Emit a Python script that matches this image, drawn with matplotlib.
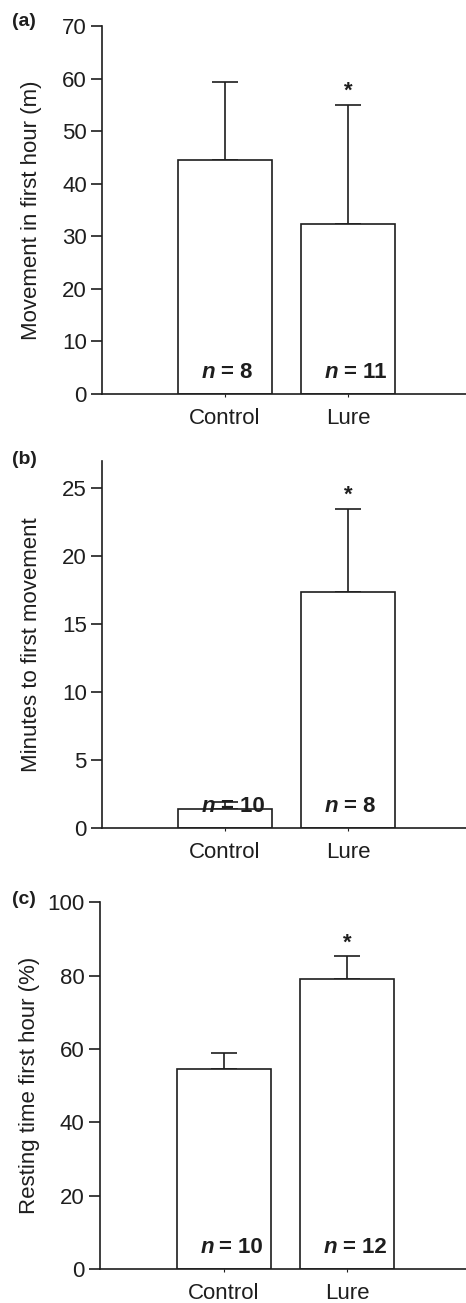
import numpy as np
import matplotlib
matplotlib.use('Agg')
import matplotlib.pyplot as plt

plt.rcParams['font.family'] = ['Liberation Sans', 'DejaVu Sans']

# data
groups = ['Control', 'Lure']

move_mean = [44.5, 32.3]
move_err = [14.8, 22.7]
move_n = ['8', '11']

latency_mean = [1.42, 17.4]
latency_err = [0.48, 6.1]
latency_n = ['10', '8']

rest_mean = [54.6, 79.1]
rest_err = [4.2, 6.2]
rest_n = ['10', '12']

sig = [False, True]

panels = [
    ('(a)', 'Movement in first hour (m)', move_mean, move_err, move_n, 70, np.arange(0, 71, 10)),
    ('(b)', 'Minutes to first movement', latency_mean, latency_err, latency_n, 27, np.arange(0, 26, 5)),
    ('(c)', 'Resting time first hour (%)', rest_mean, rest_err, rest_n, 100, np.arange(0, 101, 20)),
]

# axes boxes [left, bottom, width, height] in figure fractions
boxes = [
    [0.219, 0.6976, 0.781, 0.2824],
    [0.219, 0.3643, 0.781, 0.2819],
    [0.2146, 0.0259, 0.7854, 0.2818],
]
# panel tag y position (figure fraction)
tag_y = [0.9835, 0.647, 0.310]

fig = plt.figure(figsize=(4.66, 13.03), dpi=100)
x = np.arange(len(groups))
ink = '#1e1e1e'

for (tag, ylab, mean, err, nn, ymax, ticks), box, ty in zip(panels, boxes, tag_y):
    ax = fig.add_axes(box)
    ax.bar(x, mean, width=0.76, color='white', edgecolor=ink, linewidth=1.2, zorder=2)
    ax.errorbar(x, mean, yerr=[np.zeros(len(err)), err], fmt='none', ecolor=ink,
                elinewidth=1.2, capsize=9.5, capthick=1.2, zorder=1)
    ax.set_xlim(-1.0, 1.96)
    ax.set_ylim(0, ymax)
    ax.set_yticks(ticks)
    ax.set_xticks(x)
    ax.set_xticklabels(groups, fontsize=16, color=ink)
    ax.tick_params(axis='y', length=8, width=1.2, pad=3, labelsize=16, colors=ink)
    ax.tick_params(axis='x', length=2, width=0.8, pad=8, colors=ink)
    for s in ['top', 'right']:
        ax.spines[s].set_visible(False)
    for s in ['left', 'bottom']:
        ax.spines[s].set_linewidth(1.2)
        ax.spines[s].set_color(ink)
    ax.set_ylabel(ylab, fontsize=16, color=ink)
    ax.yaxis.set_label_coords(-0.165, 0.5)

    # n labels inside bars
    for xi, n in zip(x, nn):
        ax.annotate('n', xy=(xi, 0), xytext=(-7, 8), textcoords='offset points',
                    ha='right', va='bottom', fontsize=16, fontweight='bold',
                    fontstyle='italic', color=ink)
        ax.annotate('= ' + n, xy=(xi, 0), xytext=(-3, 8), textcoords='offset points',
                    ha='left', va='bottom', fontsize=16, fontweight='bold', color=ink)

    # significance asterisks
    for xi, m, e, s in zip(x, mean, err, sig):
        if s:
            ax.annotate('*', xy=(xi, m + e), xytext=(0, 2), textcoords='offset points',
                        ha='center', va='bottom', fontsize=16, fontweight='bold', color=ink)

    fig.text(0.026, ty, tag, fontsize=14, fontweight='bold', color=ink,
             va='center', ha='left')

fig.savefig('out.png', dpi=100)
